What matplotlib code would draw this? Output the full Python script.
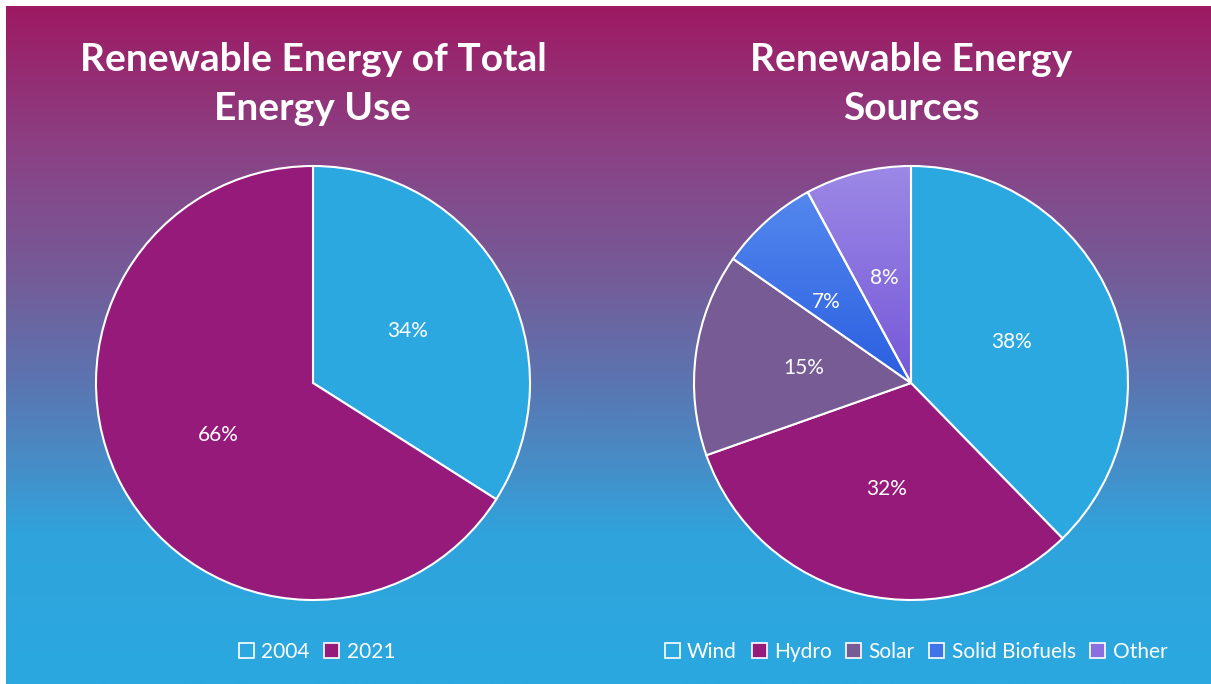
import numpy as np
import matplotlib
matplotlib.use("Agg")
import matplotlib.pyplot as plt
from matplotlib.patches import Patch
from matplotlib.colors import LinearSegmentedColormap

plt.rcParams["font.family"] = ["Lato", "DejaVu Sans"]

W, H = 1211, 684

# data
years = ["2004", "2021"]
year_share = [34, 66]
sources = ["Wind", "Hydro", "Solar", "Solid Biofuels", "Other"]
source_share = [37.7, 31.9, 15.1, 7.4, 7.9]

C_CYAN = "#2ba8e0"
C_PURPLE = "#951a7a"
source_colors = [C_CYAN, C_PURPLE, "#765b94", "#3f73ea", "#8a6fe0"]
# top/bottom colours of the gradient-filled wedges
wedge_grad = {3: ("#5b8ff0", "#2a5ee0"), 4: ("#9d8ae6", "#7557d8")}

bg_stops = [(0.0, "#9e1a63"), (0.22, "#8a4386"), (0.40, "#745c98"),
            (0.55, "#5c74b0"), (0.68, "#468ec8"), (0.78, "#30a3dc"),
            (1.0, "#2ba8e0")]

fig = plt.figure(figsize=(W / 100, H / 100), dpi=100)
fig.patch.set_facecolor("white")

# gradient background (white strip at top and left as in the reference)
bg = fig.add_axes([6 / W, 0, 1 - 6 / W, 1 - 6 / H])
bg.set_axis_off()
cmap = LinearSegmentedColormap.from_list("bg", bg_stops)
bg.imshow(np.linspace(0, 1, 512)[:, None], aspect="auto", cmap=cmap,
          extent=[0, 1, 0, 1], origin="upper")
bg.set_xlim(0, 1); bg.set_ylim(0, 1)

ax = fig.add_axes([0, 0, 1, 1])
ax.patch.set_alpha(0)

wprops = dict(edgecolor="white", linewidth=1.5)
tprops = dict(color="white", fontsize=15)

ax.pie(year_share, colors=[C_CYAN, C_PURPLE], startangle=90, counterclock=False,
       center=(313, H - 383), radius=217, autopct="%.0f%%", pctdistance=0.5,
       wedgeprops=wprops, textprops=tprops, frame=True)

wedges, _, pct = ax.pie(source_share, colors=source_colors, startangle=90, counterclock=False,
                        center=(911, H - 383), radius=217, autopct="%.0f%%", pctdistance=0.5,
                        wedgeprops=wprops, textprops=tprops, frame=True)
pct[3].set_position((826, H - 302))  # Excel pushes the narrow label outward a bit

# vertical gradients inside the small wedges
for i, (top, bot) in wedge_grad.items():
    w = wedges[i]
    cm = LinearSegmentedColormap.from_list(f"w{i}", [bot, top])
    im = ax.imshow(np.linspace(0, 1, 256)[:, None], aspect="auto", cmap=cm,
                   extent=[690, 1130, H - 385, H - 160], origin="lower",
                   interpolation="bilinear", zorder=1.05)
    im.set_clip_path(w)
    w.set_facecolor("none")
    w.set_zorder(1.1)
for t in pct:
    t.set_zorder(3)

ax.set_xlim(0, W)
ax.set_ylim(0, H)
ax.set_aspect("equal")
ax.set_axis_off()

title_kw = dict(color="white", fontsize=28, fontweight="bold", ha="center",
                va="center", linespacing=1.5)
ax.text(313, H - 84, "Renewable Energy of Total\nEnergy Use", **title_kw)
ax.text(911, H - 84, "Renewable Energy\nSources", **title_kw)

leg_kw = dict(loc="center", frameon=False, handlelength=0.72, handleheight=0.72,
              handletextpad=0.35, columnspacing=0.7, labelcolor="white", fontsize=15)
h1 = [Patch(facecolor=c, edgecolor="white", lw=1.2) for c in [C_CYAN, C_PURPLE]]
fig.legend(h1, years, ncol=2, bbox_to_anchor=(317 / W, 1 - 652 / H), **leg_kw)
h2 = [Patch(facecolor=c, edgecolor="white", lw=1.2) for c in source_colors]
fig.legend(h2, sources, ncol=5, bbox_to_anchor=(916 / W, 1 - 652 / H), **leg_kw)

fig.savefig("out.png", dpi=100)
